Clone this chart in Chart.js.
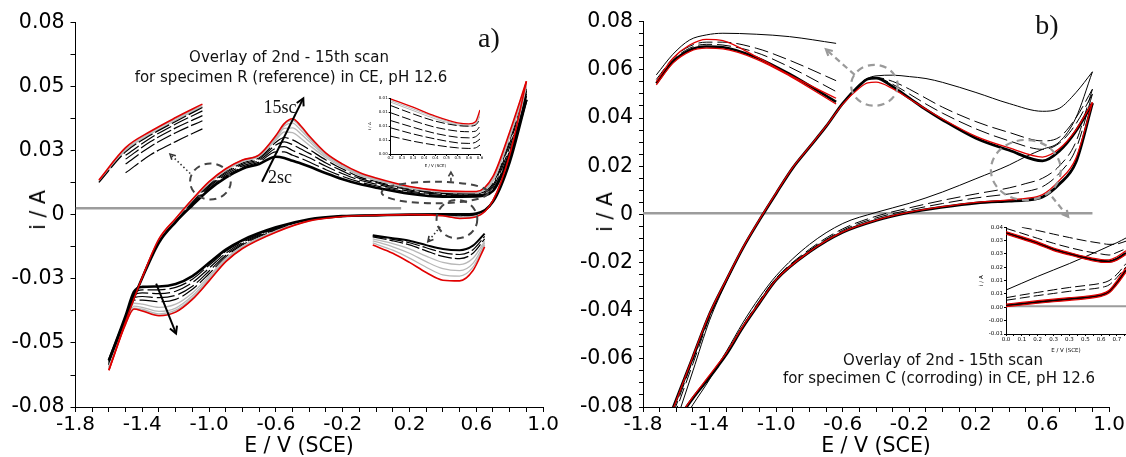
<!DOCTYPE html>
<html>
<head>
<meta charset="utf-8">
<script src="https://cdn.jsdelivr.net/npm/chart.js@4.4.1/dist/chart.umd.min.js"></script>
<style>
  body { margin: 0; background: #fff; }
  #wrap { position: relative; width: 1126px; height: 457px; overflow: hidden; font-family: "DejaVu Sans", sans-serif; }
  canvas { position: absolute; }
  .txt { position: absolute; white-space: nowrap; transform: translate(-50%, -50%); color: #111; }
  .note { font-size: 15px; }
  .serif { font-family: "Liberation Serif", serif; }
  .axt { font-size: 20.5px; color: #000; }
</style>
</head>
<body>
<div id="wrap">
  <canvas id="chartA" width="560" height="457" style="left:0;top:0"></canvas>
  <canvas id="chartB" width="566" height="457" style="left:560px;top:0"></canvas>
  <canvas id="insetA" width="118" height="80" style="left:368px;top:88px"></canvas>
  <canvas id="insetB" width="148" height="136" style="left:978px;top:218px"></canvas>

  <div class="txt note" style="left:289px;top:57px">Overlay of 2nd - 15th scan</div>
  <div class="txt note" style="left:291px;top:77px">for specimen R (reference) in CE, pH 12.6</div>
  <div class="txt serif" style="left:489px;top:38px;font-size:28px">a)</div>
  <div class="txt serif" style="left:280px;top:107px;font-size:18px">15sc</div>
  <div class="txt serif" style="left:280px;top:177px;font-size:18px">2sc</div>
  <div class="txt axt" style="left:38px;top:210px;transform:translate(-50%,-50%) rotate(-90deg)">i / A</div>
  <div class="txt axt" style="left:299px;top:445px">E / V (SCE)</div>

  <div class="txt note" style="left:943px;top:360px">Overlay of 2nd - 15th scan</div>
  <div class="txt note" style="left:939px;top:378px">for specimen C (corroding) in CE, pH 12.6</div>
  <div class="txt serif" style="left:1047px;top:25px;font-size:28px">b)</div>
  <div class="txt axt" style="left:605px;top:212px;transform:translate(-50%,-50%) rotate(-90deg)">i / A</div>
  <div class="txt axt" style="left:876px;top:445px">E / V (SCE)</div>
</div>

<script>
const FONT = '"DejaVu Sans", sans-serif';

// ---------- axes (shared by both panels) ----------
const mainXTicks = [-1.8, -1.7, -1.6, -1.5, -1.4, -1.3, -1.2, -1.1, -1.0, -0.9, -0.8, -0.7, -0.6, -0.5, -0.4, -0.3, -0.2, -0.1, 0.0, 0.1, 0.2, 0.3, 0.4, 0.5, 0.6, 0.7, 0.8, 0.9, 1.0];
const mainXLabels = ['-1.8', '', '', '', '-1.4', '', '', '', '-1.0', '', '', '', '-0.6', '', '', '', '-0.2', '', '', '', '0.2', '', '', '', '0.6', '', '', '', '1.0'];
const aYTicks = [-0.08, -0.0667, -0.0533, -0.04, -0.0267, -0.0133, 0, 0.0133, 0.0267, 0.04, 0.0533, 0.0667, 0.08];
const aYLabels = ['-0.08', '', '-0.05', '', '-0.03', '', '0', '', '0.03', '', '0.05', '', '0.08'];
const bYTicks = [-0.08, -0.075, -0.07, -0.065, -0.06, -0.055, -0.05, -0.045, -0.04, -0.035, -0.03, -0.025, -0.02, -0.015, -0.01, -0.005, 0, 0.005, 0.01, 0.015, 0.02, 0.025, 0.03, 0.035, 0.04, 0.045, 0.05, 0.055, 0.06, 0.065, 0.07, 0.075, 0.08];
const bYLabels = ['-0.08', '', '', '', '-0.06', '', '', '', '-0.04', '', '', '', '-0.02', '', '', '', '0', '', '', '', '0.02', '', '', '', '0.04', '', '', '', '0.06', '', '', '', '0.08'];

// ---------- panel a: specimen R ----------
const aFwdE = [-1.6, -1.5, -1.4, -1.3, -1.2, -1.1, -1.0, -0.9, -0.8, -0.7, -0.6, -0.55, -0.5, -0.45, -0.4, -0.3, -0.2, -0.1, 0.0, 0.2, 0.4, 0.6, 0.7, 0.8, 0.9];
const aRevE = [0.9, 0.8, 0.7, 0.6, 0.5, 0.4, 0.2, 0.0, -0.2, -0.4, -0.6, -0.8, -0.9, -1.0, -1.1, -1.2, -1.3, -1.4, -1.45, -1.5, -1.6];

const aFwd2  = [-0.0606, -0.0430, -0.0262, -0.0115, -0.0030, 0.0040, 0.0105, 0.0155, 0.0192, 0.0212, 0.0242, 0.0237, 0.0225, 0.0214, 0.0201, 0.0173, 0.0148, 0.0128, 0.0113, 0.0088, 0.0076, 0.0077, 0.0100, 0.0250, 0.0480];
const aFwd3  = [-0.0610, -0.0432, -0.0262, -0.0112, -0.0027, 0.0045, 0.0110, 0.0162, 0.0198, 0.0220, 0.0262, 0.0262, 0.0248, 0.0235, 0.0220, 0.0188, 0.0160, 0.0137, 0.0121, 0.0094, 0.0081, 0.0080, 0.0108, 0.0268, 0.0494];
const aFwd4  = [-0.0615, -0.0435, -0.0261, -0.0110, -0.0025, 0.0050, 0.0116, 0.0168, 0.0204, 0.0227, 0.0278, 0.0284, 0.0268, 0.0253, 0.0238, 0.0202, 0.0171, 0.0145, 0.0128, 0.0099, 0.0085, 0.0083, 0.0116, 0.0283, 0.0505];
const aFwd5  = [-0.0620, -0.0437, -0.0261, -0.0107, -0.0022, 0.0054, 0.0121, 0.0174, 0.0210, 0.0233, 0.0291, 0.0304, 0.0292, 0.0274, 0.0256, 0.0216, 0.0182, 0.0152, 0.0134, 0.0104, 0.0089, 0.0086, 0.0124, 0.0298, 0.0515];
const aFwd6  = [-0.0625, -0.0439, -0.0261, -0.0105, -0.0020, 0.0058, 0.0126, 0.0179, 0.0216, 0.0238, 0.0302, 0.0322, 0.0312, 0.0293, 0.0272, 0.0228, 0.0191, 0.0158, 0.0139, 0.0108, 0.0092, 0.0089, 0.0131, 0.0310, 0.0525];
const aFwd8  = [-0.0632, -0.0441, -0.0261, -0.0103, -0.0018, 0.0061, 0.0131, 0.0185, 0.0222, 0.0243, 0.0312, 0.0345, 0.0342, 0.0318, 0.0290, 0.0238, 0.0198, 0.0164, 0.0144, 0.0111, 0.0095, 0.0092, 0.0140, 0.0322, 0.0535];
const aFwd10 = [-0.0637, -0.0443, -0.0260, -0.0102, -0.0017, 0.0063, 0.0134, 0.0188, 0.0225, 0.0247, 0.0318, 0.0360, 0.0362, 0.0337, 0.0305, 0.0245, 0.0203, 0.0168, 0.0147, 0.0114, 0.0097, 0.0094, 0.0148, 0.0331, 0.0543];
const aFwd12 = [-0.0641, -0.0444, -0.0260, -0.0101, -0.0016, 0.0064, 0.0136, 0.0190, 0.0227, 0.0249, 0.0323, 0.0370, 0.0382, 0.0352, 0.0316, 0.0250, 0.0207, 0.0171, 0.0149, 0.0116, 0.0098, 0.0095, 0.0153, 0.0338, 0.0549];
const aFwd14 = [-0.0645, -0.0445, -0.0260, -0.0100, -0.0015, 0.0065, 0.0137, 0.0191, 0.0228, 0.0250, 0.0327, 0.0376, 0.0393, 0.0364, 0.0323, 0.0254, 0.0209, 0.0174, 0.0151, 0.0117, 0.0099, 0.0096, 0.0157, 0.0342, 0.0553];
const aFwd15 = [-0.0647, -0.0445, -0.0260, -0.0100, -0.0015, 0.0065, 0.0138, 0.0192, 0.0228, 0.0250, 0.0330, 0.0380, 0.0400, 0.0370, 0.0328, 0.0257, 0.0211, 0.0176, 0.0153, 0.0118, 0.0100, 0.0097, 0.0160, 0.0345, 0.0556];

const aRev2  = [0.0480, 0.0220, 0.0055, 0.0006, 0.0002, 0.0002, 0.0001, -0.0002, -0.0005, -0.0018, -0.0052, -0.0105, -0.0145, -0.0200, -0.0255, -0.0288, -0.0298, -0.0300, -0.0320, -0.0420, -0.0606];
const aRev3  = [0.0494, 0.0225, 0.0056, 0.0004, 0.0000, 0.0001, 0.0001, -0.0002, -0.0005, -0.0019, -0.0055, -0.0110, -0.0152, -0.0210, -0.0268, -0.0302, -0.0312, -0.0312, -0.0328, -0.0425, -0.0610];
const aRev4  = [0.0505, 0.0230, 0.0057, 0.0002, -0.0003, 0.0000, 0.0001, -0.0002, -0.0005, -0.0020, -0.0058, -0.0115, -0.0160, -0.0222, -0.0282, -0.0318, -0.0328, -0.0325, -0.0336, -0.0430, -0.0615];
const aRev5  = [0.0515, 0.0235, 0.0058, 0.0000, -0.0005, -0.0001, 0.0001, -0.0002, -0.0006, -0.0021, -0.0061, -0.0120, -0.0168, -0.0234, -0.0297, -0.0335, -0.0345, -0.0340, -0.0345, -0.0435, -0.0620];
const aRev6  = [0.0525, 0.0238, 0.0059, -0.0002, -0.0007, -0.0002, 0.0001, -0.0002, -0.0006, -0.0022, -0.0064, -0.0125, -0.0175, -0.0245, -0.0310, -0.0352, -0.0362, -0.0355, -0.0355, -0.0440, -0.0625];
const aRev8  = [0.0535, 0.0242, 0.0059, -0.0004, -0.0009, -0.0002, 0.0001, -0.0002, -0.0006, -0.0023, -0.0067, -0.0130, -0.0182, -0.0255, -0.0325, -0.0372, -0.0385, -0.0372, -0.0368, -0.0445, -0.0632];
const aRev10 = [0.0543, 0.0245, 0.0060, -0.0005, -0.0011, -0.0003, 0.0001, -0.0002, -0.0007, -0.0024, -0.0069, -0.0134, -0.0187, -0.0263, -0.0337, -0.0388, -0.0402, -0.0385, -0.0380, -0.0450, -0.0637];
const aRev12 = [0.0549, 0.0247, 0.0060, -0.0006, -0.0013, -0.0003, 0.0001, -0.0002, -0.0007, -0.0024, -0.0070, -0.0137, -0.0191, -0.0269, -0.0345, -0.0397, -0.0412, -0.0393, -0.0388, -0.0452, -0.0641];
const aRev14 = [0.0553, 0.0249, 0.0060, -0.0007, -0.0014, -0.0004, 0.0001, -0.0002, -0.0007, -0.0025, -0.0071, -0.0139, -0.0194, -0.0273, -0.0350, -0.0403, -0.0418, -0.0398, -0.0392, -0.0454, -0.0645];
const aRev15 = [0.0556, 0.0250, 0.0060, -0.0008, -0.0015, -0.0004, 0.0001, -0.0002, -0.0007, -0.0025, -0.0072, -0.0140, -0.0195, -0.0275, -0.0352, -0.0405, -0.0420, -0.0400, -0.0392, -0.0455, -0.0647];

const aZeroE = [-1.8, 0.15];
const aZeroI = [0.0027, 0.0027];

// zoomed fragment, top left (drawn in main axes)
const aTlE = [-1.66, -1.5, -1.35, -1.2, -1.04];
const aTlRed = [0.0145, 0.0280, 0.0348, 0.0405, 0.0461];
const aTlGray1 = [0.0140, 0.0274, 0.0343, 0.0400, 0.0455];
const aTlGray2 = [0.0135, 0.0268, 0.0337, 0.0394, 0.0450];
const aTlBlack1 = [0.0135, 0.0262, 0.0332, 0.0389, 0.0447];
const aTlBlack2 = [null, 0.0248, 0.0320, 0.0378, 0.0433];
const aTlBlack3 = [null, 0.0232, 0.0305, 0.0362, 0.0413];
const aTlBlack4 = [null, 0.0212, 0.0285, 0.0342, 0.0392];
const aTlBlack5 = [null, 0.0175, 0.0250, 0.0305, 0.0358];

// zoomed fragment, bottom right (drawn in main axes)
const aBrE = [-0.02, 0.1, 0.2, 0.3, 0.4, 0.5, 0.58, 0.65];
const aBrBlack = [-0.0085, -0.0097, -0.0108, -0.0126, -0.0142, -0.0147, -0.0128, -0.0078];
const aBrDash1 = [-0.0088, -0.0102, -0.0116, -0.0137, -0.0157, -0.0165, -0.0145, -0.0090];
const aBrDash2 = [-0.0092, -0.0108, -0.0125, -0.0150, -0.0173, -0.0182, -0.0160, -0.0100];
const aBrGray1 = [-0.0100, -0.0120, -0.0142, -0.0172, -0.0198, -0.0207, -0.0181, -0.0110];
const aBrGray2 = [-0.0108, -0.0133, -0.0160, -0.0195, -0.0224, -0.0232, -0.0202, -0.0118];
const aBrGray3 = [-0.0117, -0.0147, -0.0180, -0.0218, -0.0250, -0.0255, -0.0218, -0.0126];
const aBrRed = [-0.0126, -0.0160, -0.0198, -0.0240, -0.0272, -0.0275, -0.0232, -0.0133];

// small inset with own axes (panel a, top right)
const inAE = [0.2, 0.3, 0.4, 0.5, 0.55, 0.58, 0.6];
const inARed = [0.0149, 0.0134, 0.0118, 0.0106, 0.0104, 0.0108, 0.0129];
const inAGray1 = [0.0146, 0.0131, 0.0116, 0.0104, 0.0102, 0.0105, 0.0123];
const inAGray2 = [0.0143, 0.0128, 0.0113, 0.0102, 0.0100, 0.0103, 0.0118];
const inABlack1 = [0.0137, 0.0122, 0.0109, 0.0101, 0.0100, 0.0102, 0.0112];
const inABlack2 = [0.0124, 0.0110, 0.0098, 0.0091, 0.0090, 0.0091, 0.0100];
const inABlack3 = [0.0110, 0.0098, 0.0087, 0.0080, 0.0079, 0.0081, 0.0088];
const inABlack4 = [0.0097, 0.0086, 0.0077, 0.0070, 0.0069, 0.0071, 0.0077];
const inABlack5 = [0.0082, 0.0073, 0.0066, 0.0061, 0.0060, 0.0061, 0.0066];
const inAXTicks = [0.2, 0.25, 0.3, 0.35, 0.4, 0.45, 0.5, 0.55, 0.6];
const inAXLabels = ['0.2', '0.3', '0.3', '0.4', '0.4', '0.5', '0.5', '0.6', '0.6'];
const inAYTicks = [0.005, 0.0075, 0.01, 0.0125, 0.015];
const inAYLabels = ['0.00', '0.01', '0.01', '0.01', '0.01'];

// annotations of panel a (data coordinates)
const aEllipses = [[-0.992, 0.0139, 0.122, 0.0075], [0.352, 0.0093, 0.319, 0.0045], [0.484, -0.0018, 0.122, 0.008]];
const aDotArrows = [[-1.113, 0.0172, -1.234, 0.0253], [0.384, -0.005, 0.31, -0.0112]];
const aDashArrows = [[0.448, 0.0138, 0.448, 0.0178]];
const aSolidArrows = [[-0.683, 0.0138, -0.436, 0.0485], [-1.317, -0.0286, -1.198, -0.0494]];

// ---------- panel b: specimen C ----------
const bFwdE = [-1.62, -1.5, -1.4, -1.3, -1.2, -1.1, -1.0, -0.9, -0.8, -0.7, -0.6, -0.5, -0.45, -0.4, -0.3, -0.2, -0.1, 0.0, 0.2, 0.4, 0.6, 0.7, 0.8, 0.9];
const bRevE = [0.9, 0.8, 0.7, 0.6, 0.5, 0.4, 0.2, 0.0, -0.2, -0.4, -0.6, -0.8, -1.0, -1.1, -1.2, -1.3, -1.35, -1.4, -1.5, -1.6];

const bFwd2    = [-0.0900, -0.0650, -0.0440, -0.0282, -0.0142, -0.0025, 0.0086, 0.0192, 0.0279, 0.0365, 0.0462, 0.0540, 0.0565, 0.0575, 0.0578, 0.0572, 0.0564, 0.0548, 0.0506, 0.0460, 0.0428, 0.0440, 0.0505, 0.0592];
const bFwd3    = [-0.0850, -0.0620, -0.0428, -0.0278, -0.0141, -0.0024, 0.0087, 0.0193, 0.0279, 0.0365, 0.0462, 0.0538, 0.0564, 0.0568, 0.0552, 0.0520, 0.0482, 0.0445, 0.0385, 0.0340, 0.0305, 0.0320, 0.0400, 0.0520];
const bFwd4    = [-0.0830, -0.0605, -0.0420, -0.0276, -0.0140, -0.0023, 0.0087, 0.0193, 0.0279, 0.0365, 0.0461, 0.0536, 0.0563, 0.0567, 0.0540, 0.0500, 0.0458, 0.0420, 0.0355, 0.0305, 0.0270, 0.0295, 0.0375, 0.0500];
const bFwdMain = [-0.0805, -0.0592, -0.0414, -0.0274, -0.0140, -0.0023, 0.0087, 0.0193, 0.0279, 0.0365, 0.0461, 0.0535, 0.0562, 0.0566, 0.0530, 0.0483, 0.0435, 0.0392, 0.0316, 0.0266, 0.0222, 0.0262, 0.0345, 0.0462];
const bFwd15   = [-0.0810, -0.0590, -0.0412, -0.0272, -0.0138, -0.0021, 0.0089, 0.0195, 0.0280, 0.0366, 0.0458, 0.0525, 0.0546, 0.0549, 0.0522, 0.0480, 0.0437, 0.0396, 0.0324, 0.0276, 0.0238, 0.0272, 0.0350, 0.0465];

const bRev2    = [0.0592, 0.0400, 0.0300, 0.0270, 0.0240, 0.0205, 0.0148, 0.0093, 0.0046, 0.0008, -0.0038, -0.0125, -0.0255, -0.0345, -0.0450, -0.0570, -0.0625, -0.0685, -0.0790, -0.0900];
const bRev3    = [0.0520, 0.0300, 0.0200, 0.0150, 0.0128, 0.0110, 0.0085, 0.0058, 0.0027, -0.0008, -0.0060, -0.0145, -0.0265, -0.0358, -0.0462, -0.0578, -0.0628, -0.0680, -0.0765, -0.0870];
const bRev4    = [0.0500, 0.0270, 0.0170, 0.0115, 0.0095, 0.0085, 0.0068, 0.0045, 0.0018, -0.0015, -0.0066, -0.0150, -0.0268, -0.0362, -0.0466, -0.0580, -0.0630, -0.0678, -0.0762, -0.0865];
const bRevMain = [0.0462, 0.0215, 0.0125, 0.0072, 0.0059, 0.0055, 0.0047, 0.0030, 0.0008, -0.0025, -0.0074, -0.0156, -0.0272, -0.0368, -0.0469, -0.0582, -0.0630, -0.0676, -0.0763, -0.0860];
const bRev15   = [0.0465, 0.0232, 0.0140, 0.0082, 0.0066, 0.0060, 0.0050, 0.0032, 0.0009, -0.0024, -0.0073, -0.0155, -0.0271, -0.0366, -0.0465, -0.0576, -0.0622, -0.0668, -0.0758, -0.0858];

const bZeroE = [-1.8, 0.9];
const bZeroI = [0.0005, 0.0005];

// zoomed fragment, top left (drawn in main axes)
const bTlE = [-1.72, -1.62, -1.52, -1.42, -1.32, -1.12, -0.92, -0.64];
const bTlThin = [0.0579, 0.0665, 0.0724, 0.0745, 0.0752, 0.0748, 0.0738, 0.0710];
const bTlRedUp = [0.0551, 0.0648, 0.0703, 0.0727, 0.0721, 0.0655, 0.0579, 0.0482];
const bTlDash1 = [0.0560, 0.0648, 0.0698, 0.0715, 0.0715, 0.0690, 0.0640, 0.0555];
const bTlDash2 = [0.0550, 0.0640, 0.0690, 0.0706, 0.0703, 0.0672, 0.0612, 0.0510];
const bTlMain = [0.0544, 0.0634, 0.0682, 0.0697, 0.0694, 0.0652, 0.0583, 0.0467];
const bTlRedLow = [0.0538, 0.0628, 0.0676, 0.0690, 0.0687, 0.0645, 0.0575, 0.0458];

// small inset with own axes (panel b, bottom right)
const inBE = [0.0, 0.1, 0.2, 0.3, 0.4, 0.5, 0.6, 0.65, 0.7, 0.757];
const inBDashA = [null, 0.0400, 0.0385, 0.0368, 0.0352, 0.0337, 0.0325, 0.0320, 0.0322, 0.0335];
const inBDashB = [0.0395, 0.0372, 0.0348, 0.0325, 0.0305, 0.0288, 0.0275, 0.0270, 0.0282, 0.0300];
const inBRedUp = [0.0380, 0.0356, 0.0332, 0.0303, 0.0282, 0.0263, 0.0249, 0.0248, 0.0262, 0.0290];
const inBMainUp = [0.0374, 0.0350, 0.0326, 0.0297, 0.0276, 0.0257, 0.0242, 0.0240, 0.0252, 0.0280];
const inBRedUp2 = [0.0368, 0.0344, 0.0320, 0.0291, 0.0270, 0.0251, 0.0236, 0.0235, 0.0246, 0.0272];
const inBThin = [0.0106, 0.0138, 0.0170, 0.0200, 0.0230, 0.0262, 0.0295, 0.0312, 0.0328, 0.0350];
const inBDashC = [0.0070, 0.0083, 0.0095, 0.0107, 0.0118, 0.0127, 0.0138, 0.0150, 0.0180, 0.0230];
const inBDashD = [0.0058, 0.0069, 0.0080, 0.0090, 0.0100, 0.0108, 0.0118, 0.0130, 0.0165, 0.0215];
const inBRedLow = [0.0040, 0.0048, 0.0056, 0.0063, 0.0070, 0.0077, 0.0088, 0.0105, 0.0150, 0.0210];
const inBMainLow = [0.0034, 0.0042, 0.0050, 0.0057, 0.0064, 0.0071, 0.0082, 0.0098, 0.0140, 0.0200];
const inBRedLow2 = [0.0028, 0.0036, 0.0044, 0.0051, 0.0058, 0.0065, 0.0076, 0.0092, 0.0132, 0.0190];
const inBZeroE = [0, 0.757];
const inBZeroI = [0.003, 0.003];
const inBXTicks = [0, 0.05, 0.1, 0.15, 0.2, 0.25, 0.3, 0.35, 0.4, 0.45, 0.5, 0.55, 0.6, 0.65, 0.7, 0.75];
const inBXLabels = ['0.0', '', '0.1', '', '0.2', '', '0.3', '', '0.3', '', '0.5', '', '0.6', '', '0.7', ''];
const inBYTicks = [-0.01, -0.00375, 0.0025, 0.00875, 0.015, 0.02125, 0.0275, 0.03375, 0.04];
const inBYLabels = ['-0.01', '-0.00', '0.00', '0.01', '0.01', '0.02', '0.03', '0.03', '0.04'];

// annotations of panel b (data coordinates)
const bEllipses = [[-0.41, 0.0536, 0.14, 0.0085], [0.5, 0.0184, 0.21, 0.0125]];
const bDashArrows = [[-0.528, 0.0579, -0.701, 0.0685], [0.657, 0.0073, 0.754, -0.001]];

// ---------- helpers ----------
const RED = '#e10000', BLACK = '#000', GRAY = '#b8b8b8', ZERO = '#9c9c9c';

function curve(xs, ys, color, width, dash, order) {
    return {
        data: xs.map((x, k) => ({ x: x, y: ys[k] })),
        borderColor: color,
        borderWidth: width,
        borderDash: dash || [],
        pointRadius: 0,
        fill: false,
        cubicInterpolationMode: 'monotone',
        order: order
    };
}

function axis(min, max, vals, labels, o) {
    return {
        type: 'linear',
        min: min,
        max: max,
        afterBuildTicks: s => { s.ticks = vals.map(v => ({ value: v })); },
        afterFit: s => {
            if (s.isHorizontal()) s.height = o.size; else s.width = o.size;
        },
        ticks: {
            autoSkip: false,
            maxRotation: 0,
            padding: o.pad,
            color: '#000',
            font: { family: FONT, size: o.font },
            callback: (v, i) => labels[i]
        },
        grid: { drawOnChartArea: false, drawTicks: true, tickLength: o.tick, tickColor: '#000', color: '#000', lineWidth: 1 },
        border: { display: true, color: '#000', width: 1 },
        title: o.title ? { display: true, text: o.title, color: '#000', font: { family: FONT, size: o.font }, padding: 0 } : { display: false }
    };
}

function arrowHead(ctx, x0, y0, x1, y1, len) {
    const ang = Math.atan2(y1 - y0, x1 - x0);
    ctx.setLineDash([]);
    ctx.beginPath();
    ctx.moveTo(x1 - len * Math.cos(ang - 0.5), y1 - len * Math.sin(ang - 0.5));
    ctx.lineTo(x1, y1);
    ctx.lineTo(x1 - len * Math.cos(ang + 0.5), y1 - len * Math.sin(ang + 0.5));
    ctx.stroke();
}

// draws dashed ellipses and arrows, all given in data coordinates
function marks(groups) {
    return {
        id: 'marks',
        afterDatasetsDraw(chart) {
            const ctx = chart.ctx, sx = chart.scales.x, sy = chart.scales.y;
            const px = v => sx.getPixelForValue(v), py = v => sy.getPixelForValue(v);
            ctx.save();
            groups.forEach(g => {
                ctx.strokeStyle = g.color;
                ctx.lineWidth = g.width;
                (g.ellipses || []).forEach(e => {
                    ctx.setLineDash(g.dash);
                    ctx.beginPath();
                    ctx.ellipse(px(e[0]), py(e[1]), Math.abs(px(e[0] + e[2]) - px(e[0])), Math.abs(py(e[1] + e[3]) - py(e[1])), 0, 0, Math.PI * 2);
                    ctx.stroke();
                });
                (g.arrows || []).forEach(a => {
                    const x0 = px(a[0]), y0 = py(a[1]), x1 = px(a[2]), y1 = py(a[3]);
                    ctx.setLineDash(g.dash);
                    ctx.beginPath();
                    ctx.moveTo(x0, y0);
                    ctx.lineTo(x1, y1);
                    ctx.stroke();
                    arrowHead(ctx, x0, y0, x1, y1, g.head);
                });
            });
            ctx.restore();
        }
    };
}

function makeChart(id, datasets, cfg, plugins) {
    return new Chart(document.getElementById(id), {
        type: 'line',
        data: { datasets: datasets },
        options: {
            responsive: false,
            animation: false,
            devicePixelRatio: 1,
            layout: { padding: cfg.padding },
            plugins: { legend: { display: false }, tooltip: { enabled: false } },
            scales: { x: cfg.x, y: cfg.y }
        },
        plugins: plugins || []
    });
}

// ---------- panel a ----------
const aDash = [18, 4];
const aSets = [curve(aZeroE, aZeroI, ZERO, 2.5, [], 20)];
[[aFwd3, aRev3], [aFwd4, aRev4], [aFwd5, aRev5], [aFwd6, aRev6]].forEach(s => {
    aSets.push(curve(aFwdE, s[0], BLACK, 1.2, aDash, 6));
    aSets.push(curve(aRevE, s[1], BLACK, 1.2, aDash, 6));
});
[[aFwd8, aRev8], [aFwd10, aRev10], [aFwd12, aRev12], [aFwd14, aRev14]].forEach(s => {
    aSets.push(curve(aFwdE, s[0], GRAY, 1.3, [], 5));
    aSets.push(curve(aRevE, s[1], GRAY, 1.3, [], 5));
});
aSets.push(curve(aFwdE, aFwd2, BLACK, 2.6, [], 1));
aSets.push(curve(aRevE, aRev2, BLACK, 2.6, [], 1));
aSets.push(curve(aFwdE, aFwd15, RED, 1.6, [], 0));
aSets.push(curve(aRevE, aRev15, RED, 1.6, [], 0));

[aTlBlack1, aTlBlack2, aTlBlack3, aTlBlack4, aTlBlack5].forEach(s => aSets.push(curve(aTlE, s, BLACK, 1.2, [16, 3], 4)));
[aTlGray1, aTlGray2].forEach(s => aSets.push(curve(aTlE, s, GRAY, 1.3, [], 5)));
aSets.push(curve(aTlE, aTlRed, RED, 1.6, [], 0));

aSets.push(curve(aBrE, aBrBlack, BLACK, 2, [], 1));
[aBrDash1, aBrDash2].forEach(s => aSets.push(curve(aBrE, s, BLACK, 1.2, [14, 3], 4)));
[aBrGray1, aBrGray2, aBrGray3].forEach(s => aSets.push(curve(aBrE, s, GRAY, 1.3, [], 5)));
aSets.push(curve(aBrE, aBrRed, RED, 1.6, [], 0));

makeChart('chartA', aSets, {
    padding: { left: 0, right: 13.6, top: 22.7, bottom: 0 },
    x: axis(-1.8, 1.0, mainXTicks, mainXLabels, { size: 50, pad: 1, font: 20, tick: 5 }),
    y: axis(-0.08, 0.08, aYTicks, aYLabels, { size: 75.5, pad: 6, font: 20.5, tick: 5 })
}, [marks([
    { color: '#444', width: 2, dash: [7, 5], ellipses: aEllipses, head: 6 },
    { color: '#333', width: 1.6, dash: [1.5, 2.5], arrows: aDotArrows, head: 6 },
    { color: '#444', width: 1.6, dash: [4, 3], arrows: aDashArrows, head: 5 },
    { color: '#000', width: 2, dash: [], arrows: aSolidArrows, head: 8 }
])]);

makeChart('insetA', [
    curve(inAE, inABlack5, BLACK, 1, [9, 3], 4),
    curve(inAE, inABlack4, BLACK, 1, [9, 3], 4),
    curve(inAE, inABlack3, BLACK, 1, [9, 3], 4),
    curve(inAE, inABlack2, BLACK, 1, [9, 3], 4),
    curve(inAE, inABlack1, BLACK, 1, [9, 3], 4),
    curve(inAE, inAGray2, GRAY, 1, [], 5),
    curve(inAE, inAGray1, GRAY, 1, [], 5),
    curve(inAE, inARed, RED, 1.3, [], 0)
], {
    padding: { left: 0, right: 6, top: 10.3, bottom: 0 },
    x: axis(0.2, 0.6, inAXTicks, inAXLabels, { size: 14, pad: 0, font: 4, tick: 2, title: 'E / V (SCE)' }),
    y: axis(0.005, 0.015, inAYTicks, inAYLabels, { size: 22.7, pad: 1, font: 4, tick: 2, title: 'i / A' })
});

// ---------- panel b ----------
const bDash = [14, 5];
makeChart('chartB', [
    curve(bZeroE, bZeroI, ZERO, 2.5, [], 20),
    curve(bFwdE, bFwd2, BLACK, 1, [], 3),
    curve(bRevE, bRev2, BLACK, 1, [], 3),
    curve(bFwdE, bFwd3, BLACK, 1, bDash, 4),
    curve(bRevE, bRev3, BLACK, 1, bDash, 4),
    curve(bFwdE, bFwd4, BLACK, 1, bDash, 4),
    curve(bRevE, bRev4, BLACK, 1, bDash, 4),
    curve(bFwdE, bFwdMain, BLACK, 2.8, [], 1),
    curve(bRevE, bRevMain, BLACK, 2.8, [], 1),
    curve(bFwdE, bFwd15, RED, 1.3, [], 0),
    curve(bRevE, bRev15, RED, 1.3, [], 0),
    curve(bTlE, bTlThin, BLACK, 1, [], 3),
    curve(bTlE, bTlDash1, BLACK, 1, bDash, 4),
    curve(bTlE, bTlDash2, BLACK, 1, bDash, 4),
    curve(bTlE, bTlMain, BLACK, 2.6, [], 1),
    curve(bTlE, bTlRedUp, RED, 1.3, [], 0),
    curve(bTlE, bTlRedLow, RED, 1.3, [], 0)
], {
    padding: { left: 0, right: 14, top: 21.7, bottom: 0 },
    x: axis(-1.8, 1.0, mainXTicks, mainXLabels, { size: 50, pad: 1, font: 20, tick: 5 }),
    y: axis(-0.08, 0.08, bYTicks, bYLabels, { size: 83, pad: 6, font: 20.5, tick: 4 })
}, [marks([
    { color: '#9a9a9a', width: 2.2, dash: [7, 5], ellipses: bEllipses, head: 7 },
    { color: '#9a9a9a', width: 2.2, dash: [6, 4], arrows: bDashArrows, head: 7 }
])]);

makeChart('insetB', [
    curve(inBZeroE, inBZeroI, ZERO, 2, [], 20),
    curve(inBE, inBDashA, BLACK, 1, [10, 4], 4),
    curve(inBE, inBDashB, BLACK, 1, [10, 4], 4),
    curve(inBE, inBThin, BLACK, 1, [], 3),
    curve(inBE, inBDashC, BLACK, 1, [10, 4], 4),
    curve(inBE, inBDashD, BLACK, 1, [10, 4], 4),
    curve(inBE, inBMainUp, BLACK, 2.4, [], 1),
    curve(inBE, inBMainLow, BLACK, 2.4, [], 1),
    curve(inBE, inBRedUp, RED, 1.2, [], 0),
    curve(inBE, inBRedUp2, RED, 1.2, [], 0),
    curve(inBE, inBRedLow, RED, 1.2, [], 0),
    curve(inBE, inBRedLow2, RED, 1.2, [], 0)
], {
    padding: { left: 0, right: 0, top: 9.3, bottom: 0 },
    x: axis(0, 0.757, inBXTicks, inBXLabels, { size: 20, pad: 0, font: 5.5, tick: 2, title: 'E / V (SCE)' }),
    y: axis(-0.01, 0.04, inBYTicks, inBYLabels, { size: 28, pad: 1, font: 5.5, tick: 2, title: 'i / A' })
});
</script>
</body>
</html>
